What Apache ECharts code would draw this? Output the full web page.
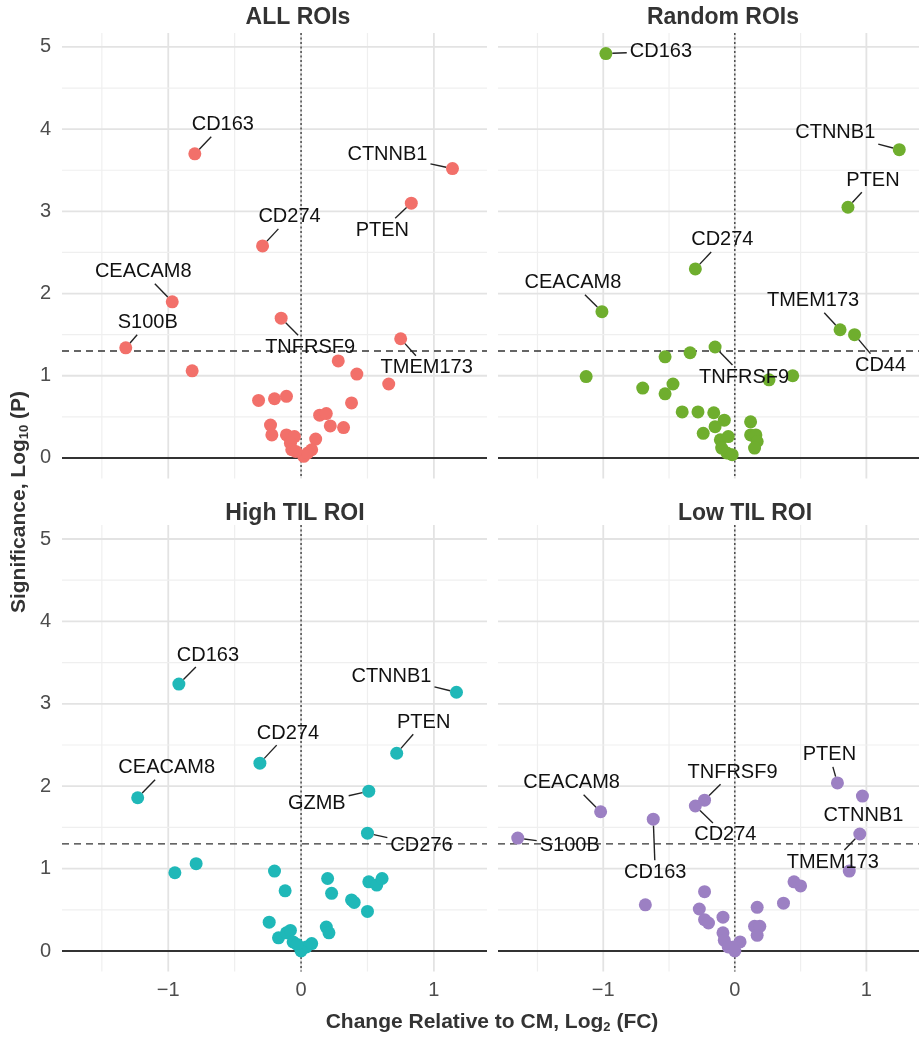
<!DOCTYPE html>
<html><head><meta charset="utf-8">
<script src="https://cdn.jsdelivr.net/npm/echarts@6/dist/echarts.min.js"></script>
<style>html,body{margin:0;padding:0;background:#fff}#c{width:919px;height:1038px}</style>
</head><body><div id="c"></div>
<script>
// ---------- DATA ----------
const panelTitles = ['ALL ROIs', 'Random ROIs', 'High TIL ROI', 'Low TIL ROI'];

const allGene = ['CD163','CTNNB1','PTEN','CD274','CEACAM8','S100B','','TNFRSF9','TMEM173','','','','','','','','','','','','','','','','','','','','','',''];
const allX = [-0.80,1.14,0.83,-0.29,-0.97,-1.32,-0.82,-0.15,0.75,0.28,0.42,0.66,-0.32,-0.20,-0.11,0.38,0.14,0.19,0.22,0.32,-0.23,-0.22,-0.11,-0.05,0.11,-0.08,-0.07,0.08,0.02,0.05,-0.04];
const allY = [3.70,3.52,3.10,2.58,1.90,1.34,1.06,1.70,1.45,1.18,1.02,0.90,0.70,0.72,0.75,0.67,0.52,0.54,0.39,0.37,0.40,0.28,0.28,0.26,0.23,0.18,0.10,0.10,0.02,0.06,0.08];

const randGene = ['CD163','CTNNB1','PTEN','CD274','CEACAM8','TMEM173','CD44','TNFRSF9','','','','','','','','','','','','','','','','','','','','','','','',''];
const randX = [-0.98,1.25,0.86,-0.30,-1.01,0.80,0.91,-0.15,-0.34,-0.53,-1.13,0.26,0.44,-0.47,-0.70,-0.53,-0.40,-0.28,-0.16,-0.08,-0.15,0.12,-0.24,-0.11,-0.05,0.12,0.16,0.17,0.15,-0.10,-0.06,-0.02];
const randY = [4.92,3.75,3.05,2.30,1.78,1.56,1.50,1.35,1.28,1.23,0.99,0.95,1.00,0.90,0.85,0.78,0.56,0.56,0.55,0.46,0.38,0.44,0.30,0.22,0.26,0.28,0.28,0.20,0.12,0.12,0.06,0.04];

const highGene = ['CD163','CTNNB1','PTEN','CD274','CEACAM8','GZMB','CD276','','','','','','','','','','','','','','','','','','','','','','',''];
const highX = [-0.92,1.17,0.72,-0.31,-1.23,0.51,0.50,-0.95,-0.79,-0.20,-0.12,0.20,0.23,0.38,0.40,0.50,0.51,0.57,0.61,-0.24,-0.17,-0.11,-0.08,-0.06,0.19,0.21,0.08,0.04,0.00,-0.03];
const highY = [3.24,3.14,2.40,2.28,1.86,1.94,1.43,0.95,1.06,0.97,0.73,0.88,0.70,0.62,0.59,0.48,0.84,0.80,0.88,0.35,0.16,0.22,0.25,0.11,0.29,0.22,0.09,0.05,0.00,0.08];

const lowGene = ['PTEN','CTNNB1','TMEM173','','TNFRSF9','CD274','CEACAM8','CD163','S100B','','','','','','','','','','','','','','','','','','',''];
const lowX = [0.78,0.97,0.95,0.87,-0.23,-0.30,-1.02,-0.62,-1.65,0.45,0.50,0.37,-0.68,-0.23,-0.27,-0.23,-0.20,-0.09,-0.09,0.17,0.15,0.19,0.17,-0.08,0.04,-0.01,-0.05,0.00];
const lowY = [2.04,1.88,1.42,0.97,1.83,1.76,1.69,1.60,1.37,0.84,0.79,0.58,0.56,0.72,0.51,0.38,0.34,0.41,0.22,0.53,0.30,0.30,0.19,0.13,0.11,0.05,0.05,0.00];

const xTicks = [-1, 0, 1];
const xMinor = [-1.5, -0.5, 0.5];
const yTicks = [0, 1, 2, 3, 4, 5];
const yMinor = [0.5, 1.5, 2.5, 3.5, 4.5];
const pThreshold = 1.301;

// ---------- LAYOUT / STYLE ----------
const colors = ['#F2706A', '#6FAE2E', '#1FB8B8', '#9C80C3'];
const FONT = "'Liberation Sans', Arial, sans-serif";
const grids = [
  {left: 62, top: 33, width: 425, height: 445.5},
  {left: 498, top: 33, width: 425, height: 445.5},
  {left: 62, top: 525, width: 425, height: 446.6},
  {left: 498, top: 525, width: 425, height: 446.6}
];
const titlePos = [[298, 18], [723, 18], [295, 514], [745, 514]];
// label offsets (px) of label centre from point
const labelOffsets = [
  {CD163:[28,-29], CTNNB1:[-65,-14], PTEN:[-29,27], CD274:[27,-29], CEACAM8:[-29,-30], S100B:[22,-25], TNFRSF9:[29,29], TMEM173:[26,29]},
  {CD163:[55,-2], CTNNB1:[-64,-17], PTEN:[25,-27], CD274:[27,-29], CEACAM8:[-29,-29], TMEM173:[-27,-29], CD44:[26,31], TNFRSF9:[29,30]},
  {CD163:[29,-29], CTNNB1:[-65,-16], PTEN:[27,-31], CD274:[28,-30], CEACAM8:[29,-30], GZMB:[-52,12], CD276:[54,12]},
  {PTEN:[-8,-28], CTNNB1:[1,19], TMEM173:[-27,28], TNFRSF9:[28,-28], CD274:[30,29], CEACAM8:[-29,-29], CD163:[2,53], S100B:[52,7]}
];
const panels = [
  {genes: allGene, xs: allX, ys: allY},
  {genes: randGene, xs: randX, ys: randY},
  {genes: highGene, xs: highX, ys: highY},
  {genes: lowGene, xs: lowX, ys: lowY}
];

const LABEL_FONT = '20px ' + FONT;
const mctx = document.createElement('canvas').getContext('2d');
mctx.font = LABEL_FONT;
function textW(s) { return mctx.measureText(s).width; }
const fmtNum = v => (v < 0 ? '\u2212' + Math.abs(v) : String(v));

const xAxes = [], yAxes = [], series = [];
panels.forEach((p, i) => {
  xAxes.push({
    type: 'value', gridIndex: i, min: -1.8, max: 1.4,
    splitLine: {show: false}, axisLine: {show: false}, axisTick: {show: false},
    axisLabel: {show: i >= 2, customValues: xTicks, formatter: fmtNum, fontSize: 20, color: '#4d4d4d', fontFamily: FONT, margin: 9}
  });
  yAxes.push({
    type: 'value', gridIndex: i, min: -0.25, max: 5.17,
    splitLine: {show: false}, axisLine: {show: false}, axisTick: {show: false},
    axisLabel: {show: i % 2 === 0, customValues: yTicks, formatter: fmtNum, fontSize: 20, color: '#4d4d4d', fontFamily: FONT, margin: 11}
  });
  // grid lines (vertical)
  const vData = xMinor.map(v => [v, 0, 0]).concat(xTicks.map(v => [v, 0, 1]));
  series.push({
    type: 'custom', xAxisIndex: i, yAxisIndex: i, z: 1, silent: true, data: vData,
    renderItem: (params, api) => {
      const cs = params.coordSys;
      const px = api.coord([api.value(0), 0])[0];
      const major = api.value(2) === 1;
      return {type: 'line', shape: {x1: px, y1: cs.y, x2: px, y2: cs.y + cs.height},
        style: {stroke: major ? '#e3e3e3' : '#efefef', lineWidth: major ? 1.8 : 1.2}};
    }
  });
  const hData = yMinor.map(v => [0, v, 0]).concat(yTicks.map(v => [0, v, 1]));
  series.push({
    type: 'custom', xAxisIndex: i, yAxisIndex: i, z: 1, silent: true, data: hData,
    renderItem: (params, api) => {
      const cs = params.coordSys;
      const py = api.coord([0, api.value(1)])[1];
      const major = api.value(2) === 1;
      return {type: 'line', shape: {x1: cs.x, y1: py, x2: cs.x + cs.width, y2: py},
        style: {stroke: major ? '#e3e3e3' : '#efefef', lineWidth: major ? 1.8 : 1.2}};
    }
  });
  // reference lines: 0 = y zero solid, 1 = threshold dashed, 2 = x zero dotted
  series.push({
    type: 'custom', xAxisIndex: i, yAxisIndex: i, z: 3, silent: true,
    data: [[0, 0, 0], [0, pThreshold, 1], [0, 0, 2]],
    renderItem: (params, api) => {
      const cs = params.coordSys;
      const kind = api.value(2);
      const c = api.coord([api.value(0), api.value(1)]);
      if (kind === 2) {
        return {type: 'line', shape: {x1: c[0], y1: cs.y, x2: c[0], y2: cs.y + cs.height},
          style: {stroke: '#333', lineWidth: 1.3, lineDash: [2, 2.5]}};
      }
      if (kind === 1) {
        return {type: 'line', shape: {x1: cs.x, y1: c[1], x2: cs.x + cs.width, y2: c[1]},
          style: {stroke: '#333', lineWidth: 1.3, lineDash: [7, 5]}};
      }
      return {type: 'line', shape: {x1: cs.x, y1: c[1], x2: cs.x + cs.width, y2: c[1]},
        style: {stroke: '#333', lineWidth: 2}};
    }
  });
  // points
  series.push({
    type: 'scatter', xAxisIndex: i, yAxisIndex: i, z: 10, silent: true,
    symbolSize: 13, itemStyle: {color: colors[i], opacity: 1},
    data: p.xs.map((x, k) => [x, p.ys[k]])
  });
  // labels with leader segments
  const labData = [];
  p.genes.forEach((g, k) => { if (g) labData.push([p.xs[k], p.ys[k], k]); });
  const offs = labelOffsets[i];
  series.push({
    type: 'custom', xAxisIndex: i, yAxisIndex: i, z: 20, silent: true, data: labData,
    renderItem: (params, api) => {
      const name = p.genes[api.value(2)];
      const pt = api.coord([api.value(0), api.value(1)]);
      const off = offs[name] || [0, -20];
      const cx = pt[0] + off[0], cy = pt[1] + off[1];
      const hw = textW(name) / 2 + 3, hh = 12;
      const dx = pt[0] - cx, dy = pt[1] - cy;
      const t = Math.min(dx !== 0 ? hw / Math.abs(dx) : Infinity, dy !== 0 ? hh / Math.abs(dy) : Infinity);
      const children = [];
      if (t < 1) {
        const ex = cx + dx * t, ey = cy + dy * t;
        const len = Math.hypot(pt[0] - ex, pt[1] - ey);
        if (len > 10) {
          const r = 6.5 / len;
          children.push({type: 'line', shape: {x1: pt[0] + (ex - pt[0]) * r, y1: pt[1] + (ey - pt[1]) * r, x2: ex, y2: ey},
            style: {stroke: '#222', lineWidth: 1.4}});
        }
      }
      children.push({type: 'text', x: cx, y: cy,
        style: {text: name, font: LABEL_FONT, fill: '#111', align: 'center', verticalAlign: 'middle'}});
      return {type: 'group', children};
    }
  });
});

const graphics = panelTitles.map((t, i) => ({
  type: 'text', x: titlePos[i][0], y: titlePos[i][1], z: 50,
  style: {text: t, font: 'bold 23px ' + FONT, fill: '#333', align: 'center', verticalAlign: 'middle'}
}));
graphics.push({
  type: 'text', x: 492, y: 1022, z: 50,
  style: {
    text: '{a|Change Relative to CM, Log}{s|2}{a| (FC)}',
    align: 'center', verticalAlign: 'middle',
    rich: {
      a: {fontFamily: FONT, fontWeight: 'bold', fontSize: 21, fill: '#333', color: '#333'},
      s: {fontFamily: FONT, fontWeight: 'bold', fontSize: 13, fill: '#333', color: '#333', padding: [10, 0, 0, 0]}
    }
  }
});
graphics.push({
  type: 'text', x: 19, y: 502, rotation: Math.PI / 2, z: 50,
  style: {
    text: '{a|Significance, Log}{s|10}{a| (P)}',
    align: 'center', verticalAlign: 'middle',
    rich: {
      a: {fontFamily: FONT, fontWeight: 'bold', fontSize: 21, fill: '#333', color: '#333'},
      s: {fontFamily: FONT, fontWeight: 'bold', fontSize: 13, fill: '#333', color: '#333', padding: [10, 0, 0, 0]}
    }
  }
});

const chart = echarts.init(document.getElementById('c'), null, {renderer: 'canvas'});
chart.setOption({
  animation: false,
  backgroundColor: '#fff',
  grid: grids,
  xAxis: xAxes,
  yAxis: yAxes,
  series: series,
  graphic: graphics
});
</script></body></html>
